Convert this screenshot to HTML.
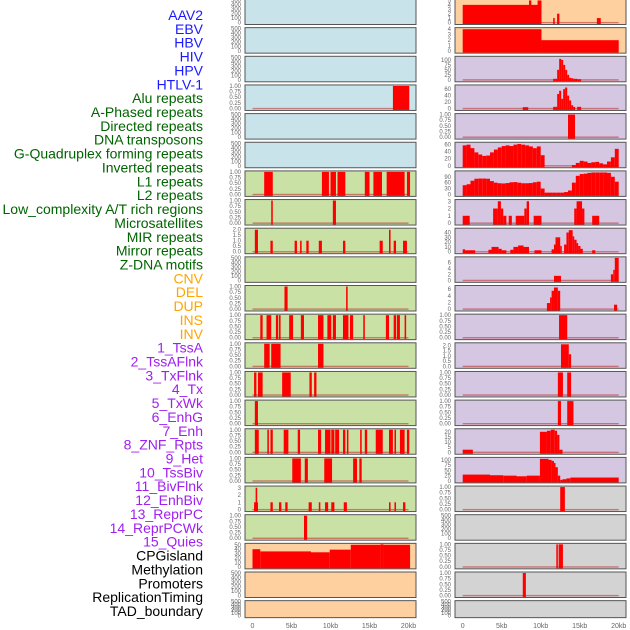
<!DOCTYPE html>
<html><head><meta charset="utf-8">
<style>
html,body{margin:0;padding:0;background:#fff;}
svg{display:block;font-family:"Liberation Sans",sans-serif;}
</style></head>
<body>
<svg id="chart" width="630" height="630" viewBox="0 0 630 630"></svg>
<script>
// ---------- labels ----------
const trackLabels = ["AAV2","EBV","HBV","HIV","HPV","HTLV-1","Alu repeats","A-Phased repeats","Directed repeats","DNA transposons","G-Quadruplex forming repeats","Inverted repeats","L1 repeats","L2 repeats","Low_complexity A/T rich regions","Microsatellites","MIR repeats","Mirror repeats","Z-DNA motifs","CNV","DEL","DUP","INS","INV","1_TssA","2_TssAFlnk","3_TxFlnk","4_Tx","5_TxWk","6_EnhG","7_Enh","8_ZNF_Rpts","9_Het","10_TssBiv","11_BivFlnk","12_EnhBiv","13_ReprPC","14_ReprPCWk","15_Quies","CPGisland","Methylation","Promoters","ReplicationTiming","TAD_boundary"];
const labelColors = [].concat(Array(6).fill("#1a1aff"),Array(13).fill("#006400"),Array(5).fill("#ffa500"),Array(15).fill("#a020f0"),Array(5).fill("#000000"));
const xTickValues = [0,5,10,15,20];
const xTickLabels = ["0","5kb","10kb","15kb","20kb"];

// ---------- tick sets ----------
const T500 = [0,100,200,300,400,500];
const T1 = [0,0.25,0.5,0.75,1];
const T2 = [0,0.5,1,1.5,2];

// ---------- left column data: [startKb, endKb, value] ----------
const L3 = [[18.0,20.1,1]];
const L6 = [[1.5,2.6,1],[8.9,9.8,1],[10.0,10.7,1],[10.9,11.9,1],[14.4,15.0,1],[15.5,16.6,1],[17.2,19.5,1],[19.8,20.2,1]];
const L7 = [[2.4,2.6,1],[10.3,10.7,1]];
const L8 = [[0.3,0.7,2],[2.3,2.6,1],[5.4,5.7,1],[6.1,6.3,1],[6.9,7.2,1],[8.5,8.9,1],[11.6,11.9,1],[16.3,16.7,1],[17.5,17.7,2],[18.1,18.4,1],[19.3,19.8,1]];
const L10 = [[4.1,4.5,1],[12.0,12.2,1]];
const L11 = [[1.0,1.3,1],[1.8,2.4,1],[3.0,3.3,1],[3.4,3.6,1],[4.7,5.2,1],[6.2,6.6,1],[8.4,9.1,1],[9.6,10.1,1],[10.3,10.7,1],[11.6,12.3,1],[12.5,12.9,1],[14.2,14.4,1],[17.1,17.5,1],[18.1,18.4,1],[18.5,18.9,1],[19.5,19.7,1]];
const L12 = [[1.5,2.2,1],[2.4,3.6,1],[8.4,9.1,1]];
const L13 = [[0.2,0.5,1],[0.7,1.3,1],[3.8,4.9,1],[7.3,7.6,1],[7.9,8.2,1]];
const L14 = [[0.3,0.7,1]];
const L15 = [[0.3,0.8,1],[1.9,2.1,1],[2.3,2.6,1],[4.0,4.6,1],[5.8,6.1,1],[8.4,8.8,1],[9.3,10.0,1],[10.1,10.5,1],[10.6,11.1,1],[11.6,11.9,1],[12.1,12.3,1],[13.8,14.0,1],[14.4,14.7,1],[15.8,16.7,1],[17.5,18.0,1],[18.2,18.4,1],[18.9,19.5,1],[19.8,20.1,1]];
const L16 = [[5.1,6.2,1],[6.7,7.1,1],[9.2,10.2,1],[12.9,13.4,1],[13.7,14.0,1]];
const L17 = [[0.2,0.7,1],[0.4,0.6,3],[2.3,2.6,1],[3.4,3.7,1],[4.2,4.5,1],[7.2,7.6,1],[8.5,8.7,1],[9.3,9.7,1],[10.1,10.5,1],[11.7,12.1,1],[17.5,17.7,1],[18.2,18.4,1],[19.3,19.6,1]];
const L18 = [[6.6,7.0,1]];
const L19 = [[0,1.0,40],[1.0,7.5,35],[7.5,9.9,33],[9.9,12.6,39],[12.6,16.4,50],[16.4,16.8,51],[16.8,20.2,50]];

// ---------- right column data ----------
const R0 = [[0,10.1,4],[8.5,8.8,5],[9.6,10.1,5],[11.6,11.8,1],[12.1,12.4,2],[17.2,17.7,1]];
const R1 = [[0,10.1,4],[10.1,20.0,2]];
const R2start = 11.6, R2bin = 0.256;
const R2vals = [5,5,50,105,100,75,50,25,10,8,5,5,3,3];
const R3a = [[7.7,8.4,4]];
const R3start = 11.6, R3bin = 0.256;
const R3vals = [5,5,45,55,30,60,65,40,25,10,5,0,5,5];
const R4 = [[13.5,14.4,1]];
const R5bin = 0.5;
const R5vals = [58,60,50,38,32,28,29,38,46,52,56,58,56,60,62,60,58,55,50,55,30,0,0,0,0,0,0,0,2,8,14,12,8,10,11,7,4,12,24,48];
const R6bin = 0.5;
const R6vals = [47,52,70,80,81,81,80,68,60,57,56,58,62,63,60,57,57,58,62,65,30,9,9,9,9,9,12,20,60,95,104,106,110,112,112,112,112,110,90,65];
const R7 = [[0,0.9,1],[3.9,4.5,2],[4.5,4.9,3],[4.9,5.2,2],[5.2,5.6,1],[5.9,6.3,1],[6.8,7.9,1],[7.9,8.2,2],[8.2,8.5,3],[9.1,10.1,1],[14.3,14.6,2],[14.6,15.3,3],[15.3,15.6,2],[16.6,17.5,1]];
const R8 = [[0,0.3,5],[0.3,1.6,3],[3.3,3.7,4],[3.7,4.6,10],[4.6,5.0,6],[5.0,5.6,3],[6.1,6.5,4],[6.5,7.1,10],[7.1,7.8,13],[7.8,8.5,10],[9.2,10.1,3],[11.4,11.7,5],[11.7,11.9,15],[11.9,12.5,30],[12.5,12.7,12],[13.0,13.3,15],[13.3,13.6,40],[13.6,14.1,45],[14.1,14.3,32],[14.3,14.6,25],[14.6,14.8,18],[14.8,15.1,12],[15.1,15.4,6],[16.6,17.0,3]];
const R9 = [[11.7,12.6,1.5],[19.0,19.3,2],[19.3,19.5,3.5],[19.5,20.0,7.5]];
const R10 = [[10.8,11.2,1.8],[11.2,11.4,3.5],[11.4,11.7,5.5],[11.7,12.2,6.5],[12.2,12.5,5.5],[19.4,19.8,1.3]];
const R11 = [[12.35,13.4,1]];
const R12 = [[12.6,13.6,2.1],[13.6,13.9,1.15]];
const R13 = [[12.2,12.85,1],[13.4,13.9,1]];
const R14 = [[12.2,12.6,1],[13.4,14.2,1]];
const R15 = [[0,1.3,2.5],[9.9,10.8,20],[10.8,11.3,21],[11.3,11.8,22],[11.8,12.1,21],[12.1,12.4,17],[12.4,12.8,2.5]];
const R16 = [[0,3.5,30],[3.5,5.2,27],[5.2,6.9,25],[6.9,8.2,22],[8.2,9.9,25],[9.9,11.0,105],[11.0,11.4,100],[11.4,11.7,95],[11.7,11.9,85],[11.9,12.2,65],[12.2,12.5,25],[12.5,12.8,5],[12.8,13.3,8],[13.3,13.8,12],[13.8,20.0,16]];
const R17 = [[12.5,13.1,1]];
const R19 = [[12.0,12.2,1],[12.3,12.85,1]];
const R20 = [[7.7,8.1,1]];

function binsToSegs(start, w, vals){ return vals.map((v,i)=>[start+i*w,start+(i+1)*w,v]); }

const BLUE="#c8e4ea", GREEN="#c9e1a5", ORANGE="#ffd09f", PURPLE="#d5c6e2", GREY="#d3d3d3";
const leftPanels = [
 [[],500,T500,0,BLUE,false],[[],500,T500,0,BLUE,false],[[],500,T500,0,BLUE,false],
 [L3,1,T1,2,BLUE,true],[[],500,T500,0,BLUE,false],[[],500,T500,0,BLUE,false],
 [L6,1,T1,2,GREEN,true],[L7,1,T1,2,GREEN,true],[L8,2.05,T2,1,GREEN,true],[[],500,T500,0,GREEN,false],
 [L10,1,T1,2,GREEN,true],[L11,1,T1,2,GREEN,true],[L12,1,T1,2,GREEN,true],[L13,1,T1,2,GREEN,true],
 [L14,1,T1,2,GREEN,true],[L15,1,T1,2,GREEN,true],[L16,1,T1,2,GREEN,true],[L17,3.1,[0,1,2,3],0,GREEN,true],
 [L18,1,T1,2,GREEN,true],[L19,51,[0,10,20,30,40,50],0,ORANGE,false],[[],500,T500,0,ORANGE,false],[[],500,T500,0,ORANGE,false]
];
const rightPanels = [
 [R0,5.1,[0,1,2,3,4,5],0,ORANGE,true],[R1,4.1,[0,1,2,3,4],0,ORANGE,false],
 [binsToSegs(R2start,R2bin,R2vals),113,[0,25,50,75,100],0,PURPLE,true],
 [R3a.concat(binsToSegs(R3start,R3bin,R3vals)),70,[0,20,40,60],0,PURPLE,true],
 [R4,1,T1,2,PURPLE,true],[binsToSegs(0,R5bin,R5vals),64,[0,20,40,60],0,PURPLE,true],
 [binsToSegs(0,R6bin,R6vals),115,[0,30,60,90],0,PURPLE,true],[R7,3.1,[0,1,2,3],0,PURPLE,true],
 [R8,47,[0,10,20,30,40],0,PURPLE,true],[R9,7.5,[0,2,4,6],0,PURPLE,true],[R10,6.8,[0,2,4,6],0,PURPLE,true],
 [R11,1,T1,2,PURPLE,true],[R12,2.15,T2,1,PURPLE,true],[R13,1,T1,2,PURPLE,true],[R14,1,T1,2,PURPLE,true],
 [R15,22,[0,5,10,15,20],0,PURPLE,true],[R16,107,[0,25,50,75,100],0,PURPLE,false],
 [R17,1,T1,2,GREY,true],[[],500,T500,0,GREY,false],[R19,1,T1,2,GREY,true],[R20,1,T1,2,GREY,true],[[],500,T500,0,GREY,false]
];

const NS="http://www.w3.org/2000/svg";
const svg=document.getElementById("chart");
function mk(tag,attrs,parent){const e=document.createElementNS(NS,tag);for(const k in attrs)e.setAttribute(k,attrs[k]);(parent||svg).appendChild(e);return e;}

trackLabels.forEach((t,i)=>{
  const e=mk("text",{x:203,y:20+i*13.86,"text-anchor":"end","font-size":"14",fill:labelColors[i]});
  e.textContent=t;
  
  
});

const cols=[{x:245,w:171,x0:252.5,panels:leftPanels,name:"left"},{x:455,w:171,x0:462.7,panels:rightPanels,name:"right"}];
const pxPerKb=7.8;
cols.forEach(col=>{
  const xs=kb=>col.x0+kb*pxPerKb;
  col.panels.forEach((p,i)=>{
    const [segs,ymax,ticks,dec,bg,baseline]=p;
    const top=-1+i*28.65;
    const h=(i===21)?17:25.5;
    const g=mk("g",{});
    
    
    const r=mk("rect",{x:col.x,y:top,width:col.w,height:h,fill:bg,stroke:"#555","stroke-width":"1"},g);
    
    
    const y0=top+h-2, y1=top+1;
    const ys=v=>y0-(v/ymax)*(y0-y1);
    if(baseline){
      const b=mk("rect",{x:xs(0),y:y0-0.6,width:20*pxPerKb,height:1.4,fill:"rgba(190,40,40,0.55)"},g);
      
      
    }
    segs.forEach(s=>{
      if(s[2]<=0)return;
      const yt=Math.max(ys(s[2]),top+0.5);
      const bar=mk("rect",{x:xs(s[0]),y:yt,width:Math.max(xs(s[1])-xs(s[0]),0.8),height:top+h-0.5-yt,fill:"#ff0000"},g);
      
      
    });
    ticks.forEach(tv=>{
      const tl=mk("text",{x:col.x-4,y:ys(tv)+2,"text-anchor":"end","font-size":"6",fill:"#666"},g);
      tl.textContent=tv.toFixed(dec);
      
      
    });
  });
  xTickValues.forEach((v,k)=>{
    const t=mk("text",{x:xs(v),y:628,"text-anchor":"middle","font-size":"7",fill:"#666"});
    t.textContent=xTickLabels[k];
    
    
  });
});
</script>
</body></html>
